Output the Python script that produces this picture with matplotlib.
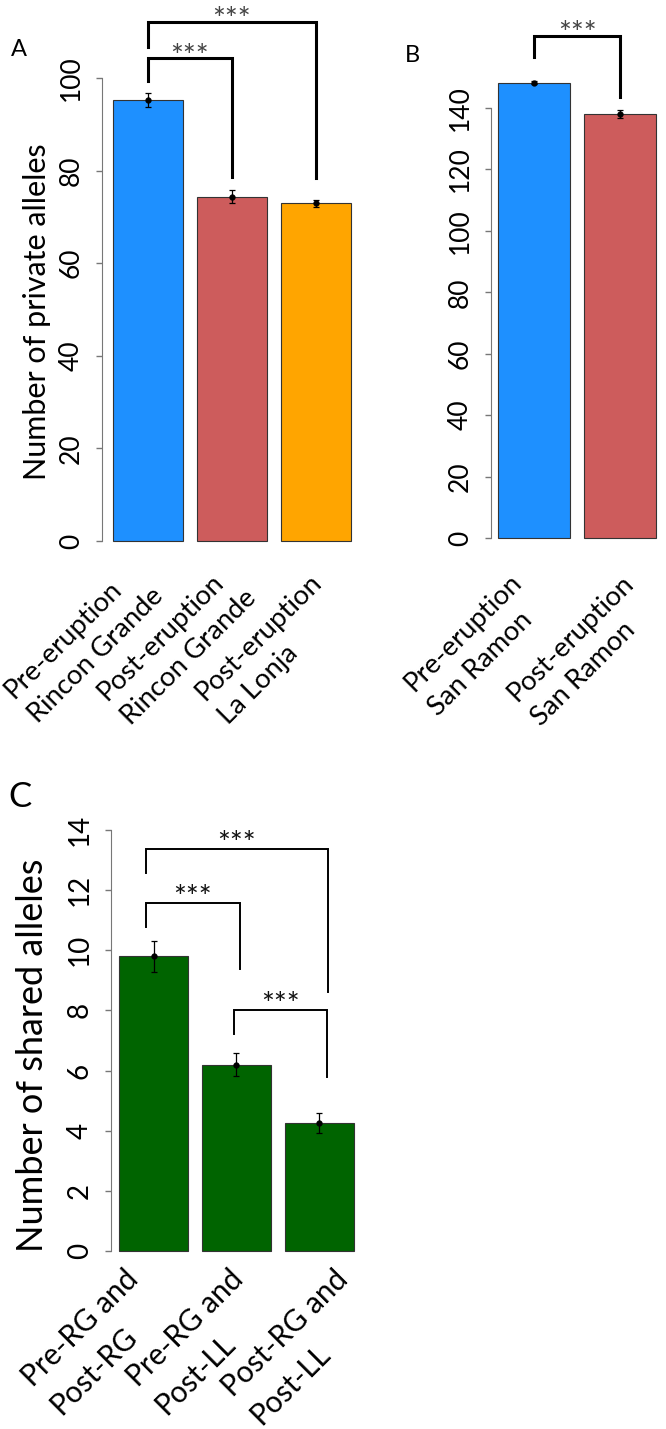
import matplotlib
matplotlib.use("Agg")
import matplotlib.pyplot as plt

plt.rcParams['font.family'] = ['Lato', 'DejaVu Sans']

# panel A: private alleles, Rincon Grande / La Lonja
groups_a = ['Pre-eruption\nRincon Grande', 'Post-eruption\nRincon Grande', 'Post-eruption\nLa Lonja']
private_a = [95.2, 74.4, 72.9]
err_a = [1.5, 1.5, 0.85]
colors_a = ['dodgerblue', 'indianred', 'orange']

# panel B: private alleles, San Ramon
groups_b = ['Pre-eruption\nSan Ramon', 'Post-eruption\nSan Ramon']
private_b = [148.3, 138.2]
err_b = [0.5, 1.3]
colors_b = ['dodgerblue', 'indianred']

# panel C: shared alleles
groups_c = ['Pre-RG and\nPost-RG', 'Pre-RG and\nPost-LL', 'Post-RG and\nPost-LL']
shared_c = [9.8, 6.2, 4.27]
err_c = [0.52, 0.38, 0.33]

# significance brackets: (x_left, x_right, top, left_end, right_end)
sig_a = [(0.7, 1.9, 104.3, 99.3, 78.7), (0.7, 3.1, 112.2, 106.8, 78.5)]
sig_b = [(0.7, 1.9, 163.6, 156.5, 143.5)]
sig_c = [(0.59, 3.23, 13.37, 12.57, 8.6), (0.59, 1.95, 11.57, 10.78, 9.38),
         (1.87, 3.22, 8.01, 7.22, 5.79)]

W, H = 666, 1429
fig = plt.figure(figsize=(W / 100, H / 100), dpi=100)
renderer = fig.canvas.get_renderer()

# the group labels were placed by hand under the bars: start of first line, in pixels
labpos_a = [(5, 691), (98, 693), (196, 693)]
labpos_b = [(405, 684), (508, 694)]
labpos_c = [(22, 1377), (127, 1377), (222, 1387)]


def add_ax(left, right, top, bottom):
    return fig.add_axes([left / W, 1 - bottom / H, (right - left) / W, (bottom - top) / H])


def fit_font(sample, target_px, base=20):
    t = fig.text(0, 0, sample, fontsize=base)
    w = t.get_window_extent(renderer).width
    t.remove()
    return base * target_px / w


def line_height(size):
    t = fig.text(0, 0, 'lp', fontsize=size)
    h = t.get_window_extent(renderer).height
    t.remove()
    return h


def xlabels(labels, positions, size, step_px):
    ls = step_px / line_height(size)
    for lab, (px, py) in zip(labels, positions):
        # va='baseline' sits on the last line, so move down one line (along the 45 deg normal)
        n = lab.count('\n')
        px += n * step_px * 0.7071
        py += n * step_px * 0.7071
        fig.text(px / W, 1 - py / H, lab, ha='left', va='baseline', rotation=45,
                 rotation_mode='anchor', multialignment='left', fontsize=size,
                 linespacing=ls)


def barpanel(ax, vals, errs, colors, xlim, ylim, yticks, tsize):
    xs = [0.7 + 1.2 * i for i in range(len(vals))]
    ax.bar(xs, vals, width=1.0, color=colors, edgecolor='#333333', linewidth=0.8,
           clip_on=False)
    ax.errorbar(xs, vals, yerr=errs, fmt='o', color='black', ms=3.5,
                elinewidth=0.9, capsize=2.5, capthick=0.9, clip_on=False)
    ax.set_xlim(*xlim)
    ax.set_ylim(*ylim)
    for s in ['top', 'right', 'bottom']:
        ax.spines[s].set_visible(False)
    ax.spines['left'].set_bounds(yticks[0], yticks[-1])
    ax.spines['left'].set_color('#777777')
    ax.set_yticks(yticks)
    ax.tick_params(axis='y', length=4, width=1, color='#777777', pad=9,
                   labelsize=tsize, labelrotation=90)
    for t in ax.get_yticklabels():
        t.set_va('center')
    ax.set_xticks([])


def brackets(ax, sigs, lw, star_dy, color):
    for x0, x1, top, e0, e1 in sigs:
        ax.plot([x0, x0, x1, x1], [e0, top, top, e1], color='black', lw=lw,
                clip_on=False, solid_joinstyle='miter')
        ax.annotate('***', xy=((x0 + x1) / 2, top), xytext=(0, star_dy),
                    textcoords='offset points', ha='center', va='baseline',
                    fontsize=22, color=color, annotation_clip=False)


ax_a = add_ax(102, 354.5, 78, 541)
barpanel(ax_a, private_a, err_a, colors_a, (0.043, 3.65), (0, 100),
         [0, 20, 40, 60, 80, 100], 19)
brackets(ax_a, sig_a, 2.2, -5.5, '#444444')
ax_a.set_ylabel('Number of private alleles', fontsize=22)
ax_a.yaxis.set_label_coords(-0.202, 0.495)

ax_b = add_ax(491, 663.6, 108, 538)
barpanel(ax_b, private_b, err_b, colors_b, (0.103, 2.5), (0, 140),
         [0, 20, 40, 60, 80, 100, 120, 140], 19)
brackets(ax_b, sig_b, 2.2, -5.5, '#444444')

ax_c = add_ax(111, 360.5, 830, 1251)
barpanel(ax_c, shared_c, err_c, ['darkgreen'] * 3, (0.084, 3.7), (0, 14),
         [0, 2, 4, 6, 8, 10, 12, 14], 20)
brackets(ax_c, sig_c, 1.4, -3, '#111111')
ax_c.set_ylabel('Number of shared alleles', fontsize=26)
ax_c.yaxis.set_label_coords(-0.248, 0.466)

size_ab = fit_font('Post-eruption', 167)
xlabels(groups_a, labpos_a, size_ab, 37)
xlabels(groups_b, labpos_b, size_ab, 37)
size_c = fit_font('Pre-RG and', 151)
xlabels(groups_c, labpos_c, size_c, 43)

fig.text(19 / W, 1 - 50 / H, 'A', fontsize=17, ha='center', va='center')
fig.text(412 / W, 1 - 55 / H, 'B', fontsize=17, ha='center', va='center')
fig.text(20 / W, 1 - 797 / H, 'C', fontsize=25, ha='center', va='center')

fig.savefig('out.png', dpi=100)
